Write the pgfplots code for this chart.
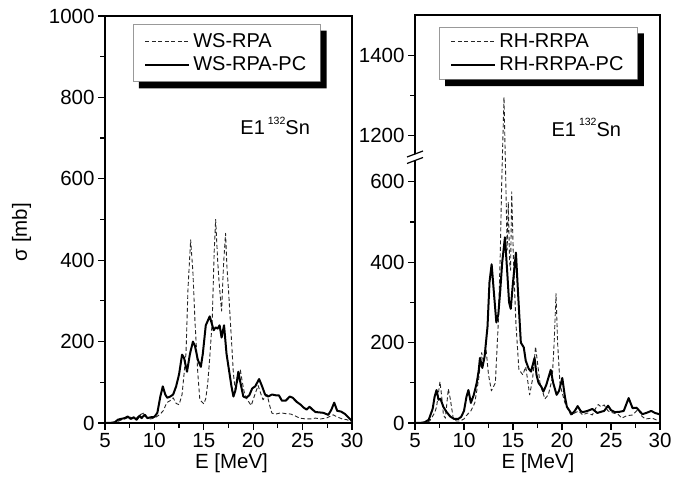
\documentclass[border=0pt]{standalone}
\usepackage{fontspec}
\setmainfont{Liberation Sans}
\usepackage{pgfplots}
\pgfplotsset{compat=1.18}
\usetikzlibrary{calc}

\pgfplotstableread{
E s
5.0 0
5.5 0
6.0 2
6.3 8
6.6 10
7.0 12
7.3 16
7.6 10
7.9 14
8.2 8
8.5 18
8.7 12
9.0 20
9.3 12
9.6 14
10.0 15
10.3 25
10.6 65
10.85 90
11.1 70
11.3 62
11.6 65
11.9 70
12.2 90
12.5 120
12.8 168
13.0 160
13.3 126
13.6 170
13.9 200
14.1 190
14.4 155
14.7 138
14.9 170
15.2 240
15.6 262
15.8 245
16.0 228
16.2 235
16.4 232
16.6 240
16.8 210
17.05 240
17.3 170
17.5 138
17.8 90
18.0 65
18.2 80
18.5 126
18.7 100
19.0 65
19.3 62
19.6 68
19.9 85
20.2 90
20.6 108
20.9 90
21.2 70
21.5 65
21.9 70
22.3 68
22.6 68
22.9 55
23.3 55
23.7 65
24.0 62
24.4 52
24.8 45
25.1 38
25.4 33
25.7 40
26.0 33
26.3 27
26.7 26
27.1 25
27.6 20
27.9 32
28.2 50
28.5 30
28.9 28
29.3 22
29.7 12
30.0 5
}\wspc

\pgfplotstableread{
E s
5.0 0
6.0 1
6.5 6
7.0 10
7.5 15
8.0 8
8.5 20
9.0 25
9.3 12
9.6 10
10.0 12
10.5 20
10.9 30
11.25 50
11.6 55
11.9 62
12.2 48
12.5 45
12.8 70
13.0 120
13.2 172
13.4 330
13.67 450
13.9 370
14.1 253
14.4 120
14.6 57
15.0 47
15.2 60
15.4 98
15.6 160
15.85 250
16.05 420
16.2 500
16.4 400
16.55 345
16.8 275
17.0 390
17.2 466
17.35 380
17.5 327
17.8 204
18.0 120
18.2 77
18.4 100
18.7 130
18.9 100
19.1 75
19.4 57
19.8 43
20.1 65
20.5 92
20.8 70
21.0 57
21.4 70
21.7 40
21.9 24
22.3 22
22.8 25
23.3 23
23.8 22
24.2 18
24.7 12
25.3 10
25.8 10
26.3 12
26.8 10
27.4 12
28.1 20
28.5 15
29.0 10
29.5 8
30.0 3
}\wsrpa

\pgfplotstableread{
E s
5.0 0
5.5 0
6.0 2
6.4 8
6.8 35
7.0 65
7.2 82
7.4 58
7.6 60
7.9 40
8.2 28
8.6 16
9.0 10
9.4 10
9.7 15
10.0 30
10.25 65
10.45 82
10.7 50
11.0 70
11.3 100
11.5 130
11.63 162
11.87 137
12.1 165
12.4 240
12.6 350
12.82 395
13.0 340
13.3 250
13.5 270
13.7 330
13.9 400
14.18 462
14.4 380
14.6 300
14.77 284
15.0 350
15.3 424
15.5 330
15.8 200
16.1 188
16.3 155
16.6 135
16.84 128
17.2 162
17.4 120
17.6 100
17.9 90
18.1 78
18.4 95
18.85 132
19.1 100
19.45 70
19.7 80
20.03 112
20.3 65
20.5 40
21.0 22
21.3 30
21.6 42
21.9 30
22.1 27
22.6 30
23.1 35
23.6 25
24.0 28
24.3 30
24.7 43
25.0 32
25.4 27
25.9 28
26.3 30
26.8 62
27.2 37
27.6 38
27.9 30
28.2 22
28.6 25
29.1 30
29.5 25
29.9 22
30.0 22
}\rhpc

\pgfplotstableread{
E s
5.0 0
6.0 1
6.5 5
7.0 25
7.2 40
7.55 103
7.75 60
7.9 20
8.1 12
8.4 85
8.6 60
8.9 12
9.2 5
9.6 5
10.0 10
10.3 20
10.7 30
11.1 50
11.5 110
11.8 175
12.0 150
12.25 183
12.5 120
12.8 80
13.2 100
13.5 250
13.7 420
13.85 600
14.08 1296
14.3 560
14.4 430
14.52 550
14.65 400
14.75 380
14.87 575
15.05 400
15.3 247
15.6 133
16.0 120
16.3 140
16.7 70
17.0 110
17.3 190
17.5 150
17.75 100
18.25 60
18.6 70
19.0 110
19.2 200
19.39 322
19.55 200
19.8 95
20.3 50
20.9 20
21.3 25
21.7 30
22.1 20
22.6 25
23.1 20
23.4 35
23.7 46
24.0 40
24.3 45
24.7 30
25.2 25
25.7 22
26.1 12
26.6 18
27.2 20
27.8 35
28.1 18
28.5 10
29.2 12
29.6 8
29.9 5
30.0 5
}\rhrpa

\pgfplotsset{
  myaxis/.style={
    scale only axis,
    anchor=south west,
    xmin=5, xmax=30,
    xtick={5,10,...,30},
    minor xtick={7.5,12.5,...,27.5},
    tick align=outside,
    xtick pos=left, ytick pos=left,
    major tick length=7pt, minor tick length=5pt,
    axis line style={line width=1.2pt},
    tick style={line width=1.2pt, black},
    tick label style={font=\fontsize{20.5}{24}\selectfont},
    label style={font=\fontsize{20.5}{24}\selectfont},
    /pgf/number format/assume math mode=true,
    /pgf/number format/1000 sep={},
    scaled ticks=false,
    xlabel={E [MeV]},
    legend cell align=left,
    legend style={
      anchor=north west,
      draw=gray!80, line width=0.8pt, fill=white,
      font=\fontsize{20}{24}\selectfont,
      inner xsep=11pt, inner ysep=6.5pt,
      row sep=2pt,
      nodes={inner xsep=3pt, inner ysep=2pt, text height=14pt, text depth=3pt},
      /tikz/every even column/.append style={column sep=4pt},
    },
    legend image code/.code={\draw[##1] (0pt,0pt) -- (44pt,0pt);},
  },
  pc/.style={black, line width=2pt, line join=round},
  rpa/.style={black!85, line width=0.9pt, dash pattern=on 4pt off 2.5pt, line join=round},
}

\newcommand\legshadow[1]{%
  \fill[black] ($(#1.north east)+(0pt,-6.5pt)$) -- ($(#1.north east)+(6pt,-6.5pt)$)
    -- ($(#1.south east)+(6pt,-6.5pt)$) -- ($(#1.south west)+(6pt,-6.5pt)$)
    -- ($(#1.south west)+(6pt,0pt)$) -- (#1.south east) -- cycle;}

\begin{document}
\begin{tikzpicture}
\path[use as bounding box] (0pt,0pt) rectangle (694pt,495pt);

% Left panel
\begin{axis}[myaxis,
  at={(105pt,72pt)}, width=247pt, height=407pt,
  ymin=0, ymax=1000,
  ytick={0,200,...,1000}, minor ytick={100,300,...,900},
  xlabel style={at={(axis description cs:0.512,0)}, anchor=center, yshift=-40pt},
  ylabel={σ [mb]},
  ylabel style={at={(axis description cs:-0.338,0.469)}, anchor=center, rotate=0},
  legend style={at={(axis description cs:0.113,0.98)}, name=legL},
]
\addplot[rpa] table[x=E,y=s] {\wsrpa};
\addlegendentry{WS-RPA}
\addplot[pc] table[x=E,y=s] {\wspc};
\addlegendentry{WS-RPA-PC}
\node[anchor=base west, font=\fontsize{20}{24}\selectfont] at (rel axis cs:0.534,0.708)
  {E1\hspace{3pt}\raisebox{10.5pt}{\fontsize{10.5}{12}\selectfont 132}Sn};
\end{axis}
\legshadow{legL}

% Right panel (broken y axis)
\begin{axis}[myaxis,
  at={(415pt,72pt)}, width=245pt, height=408pt,
  y coord trafo/.code={\pgfmathparse{#1>900 ? #1-485 : #1}},
  ymin=0, ymax=1500,
  ytick={0,200,400,600,1200,1400},
  yticklabels={0,200,400,600,1200,1400},
  minor ytick={100,300,500,1300},
  xlabel style={at={(axis description cs:0.502,0)}, anchor=center, yshift=-40pt},
  legend style={at={(axis description cs:0.098,0.971)}, name=legR, inner ysep=4pt},
]
\addplot[rpa] table[x=E,y=s] {\rhrpa};
\addlegendentry{RH-RRPA}
\addplot[pc] table[x=E,y=s] {\rhpc};
\addlegendentry{RH-RRPA-PC}
\node[anchor=base west, font=\fontsize{20}{24}\selectfont] at (rel axis cs:0.543,0.703)
  {E1\hspace{3pt}\raisebox{10.5pt}{\fontsize{10.5}{12}\selectfont 132}Sn};
\end{axis}
\legshadow{legR}

% axis break symbol on the right panel
\fill[white] (408pt,338pt) -- (422pt,343pt) -- (422pt,337pt) -- (408pt,332pt) -- cycle;
\draw[line width=1.2pt] (407pt,338pt) -- (423pt,344pt);
\draw[line width=1.2pt] (407pt,331.5pt) -- (423pt,337.5pt);
\end{tikzpicture}
\end{document}
